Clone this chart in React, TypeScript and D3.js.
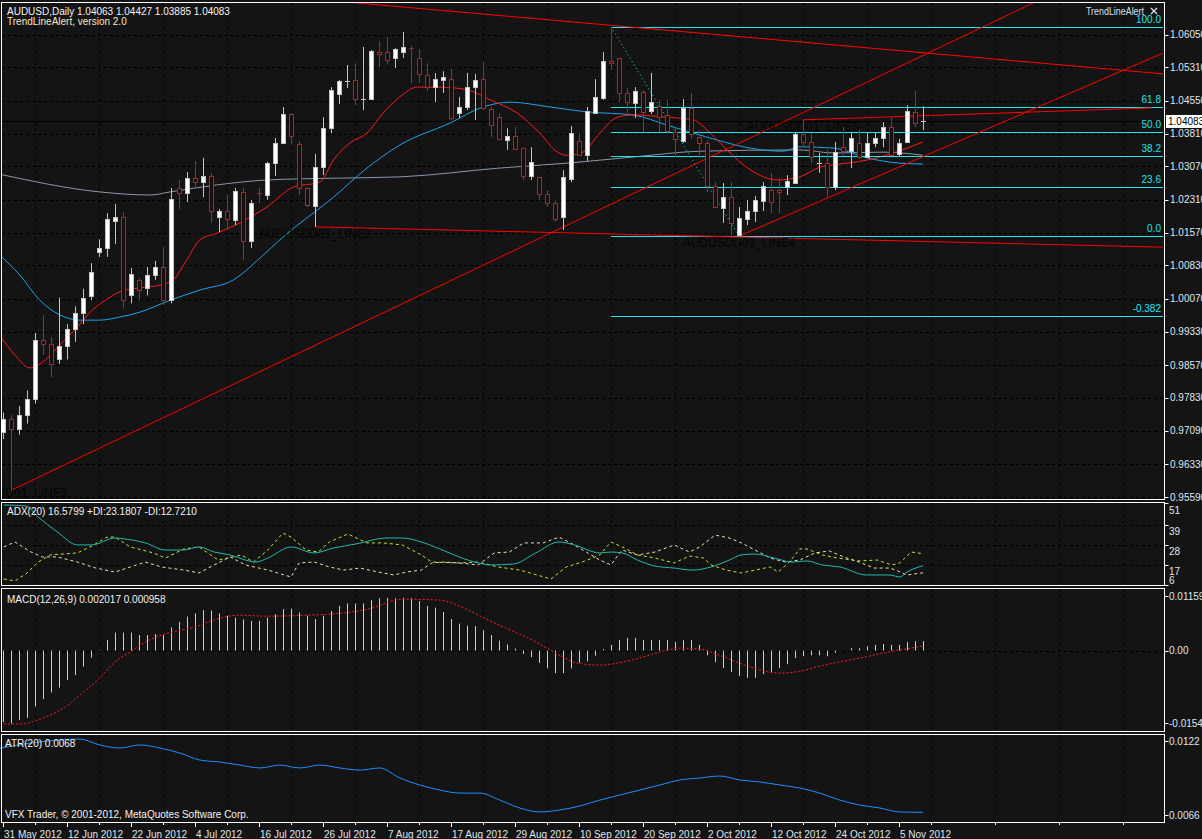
import React, { useEffect } from 'react';
import * as d3 from 'd3';

const W = 1202;
const H = 839;
const font = "Tahoma, 'Liberation Sans', Arial, sans-serif";

// AUDUSD daily bars, 31 May 2012 .. 8 Nov 2012
const opens = [
  0.9705, 0.9735, 0.9712, 0.9745, 0.9780, 0.9915, 0.9905, 0.9870, 0.9900, 0.9940,
  0.9975, 1.0013, 1.0113, 1.0122, 1.0183, 1.0192, 1.0015, 1.0050, 1.0032, 1.0061,
  1.0079, 1.0004, 1.0258, 1.0246, 1.0280, 1.0271, 1.0285, 1.0192, 1.0206, 1.0185,
  1.0249, 1.0138, 1.0247, 1.0242, 1.0314, 1.0360, 1.0425, 1.0357, 1.0258, 1.0217,
  1.0305, 1.0393, 1.0470, 1.0500, 1.0502, 1.0459, 1.0459, 1.0565, 1.0565, 1.0552,
  1.0565, 1.0574, 1.0552, 1.0513, 1.0486, 1.0502, 1.0504, 1.0427, 1.0441, 1.0486,
  1.0504, 1.0436, 1.0418, 1.0366, 1.0375, 1.0348, 1.0285, 1.0283, 1.0244, 1.0224,
  1.0192, 1.0278, 1.0364, 1.0332, 1.0427, 1.0461, 1.0545, 1.0552, 1.0473, 1.0450,
  1.0475, 1.0432, 1.0443, 1.0423, 1.0384, 1.0364, 1.0439, 1.0373, 1.0360, 1.0262,
  1.0213, 1.0237, 1.0151, 1.0188, 1.0206, 1.0228, 1.0253, 1.0253, 1.0260, 1.0269,
  1.0380, 1.0362, 1.0314, 1.0314, 1.0260, 1.0350, 1.0341, 1.0360, 1.0328, 1.0360,
  1.0371, 1.0396, 1.0335, 1.0362, 1.0430, 1.04063,
];
const highs = [
  0.9750, 0.9745, 0.9765, 0.9800, 0.9930, 0.9970, 0.9920, 1.0010, 0.9950, 0.9990,
  1.0030, 1.0088, 1.0142, 1.0201, 1.0222, 1.0203, 1.0077, 1.0054, 1.0079, 1.0093,
  1.0124, 1.0258, 1.0276, 1.0294, 1.0319, 1.0326, 1.0292, 1.0210, 1.0242, 1.0258,
  1.0258, 1.0231, 1.0258, 1.0317, 1.0371, 1.0441, 1.0427, 1.0364, 1.0260, 1.0335,
  1.0418, 1.0486, 1.0502, 1.0536, 1.0540, 1.0577, 1.0570, 1.0590, 1.0599, 1.0574,
  1.0611, 1.0579, 1.0572, 1.0540, 1.0518, 1.0522, 1.0527, 1.0464, 1.0518, 1.0516,
  1.0543, 1.0441, 1.0427, 1.0393, 1.0396, 1.0350, 1.0350, 1.0283, 1.0253, 1.0231,
  1.0298, 1.0398, 1.0382, 1.0441, 1.0504, 1.0565, 1.0622, 1.0552, 1.0484, 1.0486,
  1.0479, 1.0518, 1.0457, 1.0457, 1.0396, 1.0459, 1.0473, 1.0389, 1.0366, 1.0271,
  1.0269, 1.0271, 1.0215, 1.0231, 1.0240, 1.0271, 1.0292, 1.0280, 1.0287, 1.0384,
  1.0412, 1.0382, 1.0337, 1.0344, 1.0362, 1.0396, 1.0382, 1.0389, 1.0382, 1.0382,
  1.0407, 1.0416, 1.0369, 1.0445, 1.0477, 1.04427,
];
const lows = [
  0.9690, 0.9574, 0.9700, 0.9725, 0.9770, 0.9880, 0.9830, 0.9860, 0.9870, 0.9910,
  0.9950, 1.0004, 1.0102, 1.0102, 1.0131, 0.9985, 0.9997, 1.0004, 1.0015, 1.0050,
  0.9993, 0.9997, 1.0210, 1.0226, 1.0258, 1.0237, 1.0179, 1.0158, 1.0163, 1.0174,
  1.0095, 1.0122, 1.0224, 1.0231, 1.0285, 1.0360, 1.0357, 1.0242, 1.0215, 1.0170,
  1.0287, 1.0382, 1.0448, 1.0484, 1.0445, 1.0434, 1.0457, 1.0531, 1.0538, 1.0529,
  1.0552, 1.0495, 1.0495, 1.0477, 1.0452, 1.0473, 1.0412, 1.0416, 1.0434, 1.0412,
  1.0434, 1.0373, 1.0366, 1.0344, 1.0344, 1.0276, 1.0276, 1.0231, 1.0215, 1.0181,
  1.0163, 1.0271, 1.0330, 1.0319, 1.0425, 1.0457, 1.0525, 1.0452, 1.0427, 1.0416,
  1.0384, 1.0425, 1.0384, 1.0382, 1.0328, 1.0360, 1.0369, 1.0326, 1.0249, 1.0215,
  1.0179, 1.0151, 1.0149, 1.0174, 1.0181, 1.0206, 1.0201, 1.0201, 1.0242, 1.0269,
  1.0350, 1.0314, 1.0292, 1.0237, 1.0253, 1.0330, 1.0303, 1.0323, 1.0326, 1.0350,
  1.0350, 1.0330, 1.0330, 1.0360, 1.0396, 1.03885,
];
const closes = [
  0.9735, 0.9712, 0.9745, 0.9780, 0.9915, 0.9905, 0.9860, 0.9900, 0.9940, 0.9975,
  1.0010, 1.0068, 1.0122, 1.0188, 1.0192, 1.0004, 1.0063, 1.0027, 1.0061, 1.0079,
  1.0004, 1.0233, 1.0246, 1.0280, 1.0271, 1.0285, 1.0206, 1.0206, 1.0188, 1.0251,
  1.0138, 1.0224, 1.0245, 1.0314, 1.0360, 1.0425, 1.0375, 1.0258, 1.0219, 1.0305,
  1.0393, 1.0479, 1.0500, 1.0500, 1.0459, 1.0459, 1.0568, 1.0561, 1.0547, 1.0572,
  1.0577, 1.0572, 1.0516, 1.0486, 1.0504, 1.0509, 1.0416, 1.0441, 1.0486, 1.0502,
  1.0439, 1.0400, 1.0369, 1.0375, 1.0346, 1.0285, 1.0317, 1.0244, 1.0224, 1.0188,
  1.0283, 1.0382, 1.0332, 1.0432, 1.0464, 1.0545, 1.0540, 1.0473, 1.0452, 1.0477,
  1.0430, 1.0452, 1.0418, 1.0387, 1.0369, 1.0439, 1.0380, 1.0360, 1.0262, 1.0215,
  1.0237, 1.0179, 1.0190, 1.0206, 1.0231, 1.0262, 1.0226, 1.0249, 1.0274, 1.0380,
  1.0362, 1.0328, 1.0314, 1.0260, 1.0339, 1.0341, 1.0371, 1.0328, 1.0360, 1.0371,
  1.0396, 1.0332, 1.0360, 1.0432, 1.0405, 1.04083,
];

const dateLabels = [
  '31 May 2012', '12 Jun 2012', '22 Jun 2012', '4 Jul 2012', '16 Jul 2012',
  '26 Jul 2012', '7 Aug 2012', '17 Aug 2012', '29 Aug 2012', '10 Sep 2012',
  '20 Sep 2012', '2 Oct 2012', '12 Oct 2012', '24 Oct 2012', '5 Nov 2012',
];

const priceTicks = [
  1.0605, 1.0531, 1.0455, 1.0381, 1.0307, 1.0231, 1.0157, 1.0083,
  1.0007, 0.9933, 0.9857, 0.9783, 0.9709, 0.9633, 0.9559,
];

// moving averages: [bar, price]
const redMa: [number, number][] = [
  [-0.4, 0.9925], [1.5, 0.9880], [3.4, 0.9851], [5.3, 0.9869], [7.1, 0.9903], [9, 0.9937],
  [10.9, 0.9977], [12.8, 1.0004], [14.6, 1.0023], [17.1, 1.0032], [19.6, 1.0038], [21.3, 1.0050],
  [22.8, 1.0090], [24.6, 1.0140], [26.8, 1.0156], [29.6, 1.0179], [33, 1.0215], [36.3, 1.0260],
  [39.6, 1.0271], [41.3, 1.0321], [43.4, 1.0360], [45.5, 1.0382], [47.5, 1.0427], [49.6, 1.0464],
  [51.8, 1.0486], [54.6, 1.0486], [58, 1.0480], [60.9, 1.0457], [64.3, 1.0427], [67.1, 1.0382],
  [69.3, 1.0339], [70.5, 1.0332], [72.5, 1.0339], [74.6, 1.0382], [76.8, 1.0418], [78.8, 1.0423],
  [83, 1.0418], [86.3, 1.0412], [88.4, 1.0382], [90.5, 1.0344], [93.4, 1.0299], [96.8, 1.0276],
  [99.6, 1.0283], [102.1, 1.0305], [103.8, 1.0310], [108, 1.0321], [111.3, 1.0337], [115, 1.0362],
];
const blueMa: [number, number][] = [
  [-0.4, 1.0106], [2.1, 1.0061], [4.6, 1.0004], [7.1, 0.9971], [9.6, 0.9959], [12.1, 0.9959],
  [14.6, 0.9966], [17.1, 0.9977], [20.9, 1.0004], [24.6, 1.0027], [28.8, 1.0050], [32.1, 1.0099],
  [35, 1.0147], [41.3, 1.0237], [45.5, 1.0303], [49.6, 1.0355], [55.9, 1.0405], [60, 1.0441],
  [63.4, 1.0452], [68.4, 1.0441], [73, 1.0430], [78.8, 1.0423], [83, 1.0400], [86.3, 1.0382],
  [89.3, 1.0366], [93.4, 1.0348], [97.5, 1.0341], [99.6, 1.0351], [103.8, 1.0348], [108, 1.0326],
  [112.1, 1.0314], [115, 1.0312],
];
const grayMa: [number, number][] = [
  [-0.4, 1.0289], [12.1, 1.0249], [18.4, 1.0242], [20.9, 1.0249], [26.8, 1.0265], [33, 1.0276],
  [41.3, 1.0280], [49.6, 1.0283], [62.1, 1.0303], [70.5, 1.0314], [78.8, 1.0328], [87.1, 1.0341],
  [99.6, 1.0344], [103.8, 1.0337], [110, 1.0339], [115, 1.0332],
];

// trend lines: two anchors [bar, price]
const trendLines = [
  { name: '', a: [30, 1.0699], b: [145, 1.0516] },
  { name: 'AUDUSDD01_LINE2', a: [39, 1.0170], b: [145, 1.0124] },
  { name: 'AUDUSDD01_LINE3', a: [1, 0.9574], b: [160, 1.0946] },
  { name: 'AUDUSDD01_LINE4', a: [92, 1.0149], b: [145, 1.0563] },
  { name: 'AUDUSDD01_LINE5', a: [100, 1.0412], b: [143.6, 1.0439] },
];

// Fibonacci retracement between the September high and October low
const fibHigh = { bar: 76, price: 1.0622 };
const fibLow = { bar: 92, price: 1.0149 };
const fibLevels = [100, 61.8, 50, 38.2, 23.6, 0, -38.2];
const fibLabels = ['100.0', '61.8', '50.0', '38.2', '23.6', '0.0', '-0.382'];

// ADX(20)
const adxLine: [number, number][] = [
  [0.1, 49.9], [2.8, 49.4], [4.4, 43.3], [6.8, 35.1], [9.3, 28.0], [11.1, 28.0], [14, 31.8],
  [15.4, 31.2], [17.8, 29.1], [20.3, 25.2], [22.6, 25.2], [24.5, 26.9], [26.4, 24.1], [28.4, 22.5],
  [30.3, 19.7], [31.6, 18.6], [33.1, 20.8], [36, 26.9], [38.9, 23.6], [41.3, 26.3], [44.1, 28.5],
  [48, 31.8], [49.9, 31.8], [52.3, 29.6], [54.6, 25.8], [57, 21.4], [59.4, 18.1], [60.9, 17.0],
  [63.8, 17.5], [66.6, 23.6], [69.5, 29.6], [71.4, 28.0], [74.6, 23.6], [76, 24.1], [77.4, 23.6],
  [79.3, 19.7], [81.5, 16.4], [83.9, 15.3], [86.1, 14.2], [88.5, 15.9], [90.8, 19.7], [92.3, 22.5],
  [94, 23.0], [96.4, 20.8], [98.6, 18.6], [100.5, 19.2], [102.4, 17.0], [104.6, 15.9], [107.9, 11.5],
  [110.8, 11.5], [112.1, 10.4], [113, 13.1], [115, 16.6],
];
const plusDi: [number, number][] = [
  [0.1, 9.3], [1.5, 8.2], [3, 12.6], [4.4, 18.6], [5.9, 22.5], [9.3, 23.6], [11.1, 27.4], [13, 32.3],
  [14, 32.3], [15.9, 26.9], [18.8, 23.6], [20.3, 20.8], [22.6, 25.8], [24.5, 26.9], [26.9, 19.7],
  [29.8, 22.5], [31.3, 18.6], [33.1, 25.2], [35, 34.5], [36, 32.3], [37.9, 25.2], [39.4, 24.1],
  [40.8, 29.6], [43.1, 34.0], [45.5, 29.1], [47.5, 29.1], [49.9, 28.0], [52.3, 22.5], [53.6, 18.6],
  [57, 18.1], [59.4, 18.6], [61.9, 15.9], [64.6, 14.2], [68.5, 9.3], [70.4, 15.9], [72.4, 18.6],
  [74.6, 22.5], [76, 29.6], [77.4, 26.9], [79.3, 22.5], [81.5, 20.8], [83.9, 18.1], [85.8, 21.9],
  [87.6, 20.8], [88.5, 17.0], [90.4, 14.2], [92.3, 12.6], [94, 14.2], [95.9, 15.9], [96.9, 13.1],
  [98.3, 18.6], [99.6, 25.8], [100.5, 25.8], [102.4, 22.5], [104.3, 20.8], [107, 19.2],
  [109.3, 19.7], [111.1, 17.0], [112.1, 18.1], [113.5, 24.1], [115, 23.2],
];
const minusDi: [number, number][] = [
  [0.1, 26.9], [1.5, 29.6], [3.5, 24.1], [4.9, 21.4], [6.8, 21.4], [9.3, 18.6], [11.6, 15.3],
  [14, 13.1], [15.9, 15.9], [17.8, 18.6], [19.8, 15.9], [22.6, 14.2], [24.5, 12.6], [26.4, 17.0],
  [28.4, 21.4], [30.3, 17.0], [33.1, 14.2], [36, 10.4], [37, 18.1], [38.9, 18.6], [40.8, 15.9],
  [42.6, 14.2], [44.6, 15.3], [47.5, 12.6], [48.9, 11.5], [50.4, 13.1], [52.3, 14.2], [53.6, 18.1],
  [55.1, 18.6], [57, 18.1], [59.4, 17.0], [61.4, 23.6], [63.3, 24.1], [65.1, 29.1], [67.5, 29.1],
  [69.5, 32.3], [71.4, 28.0], [72.9, 24.1], [74.6, 19.7], [76, 17.0], [76.9, 22.5], [77.4, 25.2],
  [79.3, 22.5], [81.5, 24.1], [83.9, 28.0], [85.8, 24.1], [87.1, 26.9], [89, 33.4], [90.8, 31.8],
  [92.3, 29.1], [94, 25.2], [95.9, 20.8], [97.8, 18.6], [99.6, 19.7], [101.5, 23.6], [103.3, 24.7],
  [105.1, 21.4], [107, 18.6], [108.9, 15.3], [110.8, 15.3], [111.6, 14.2], [113, 11.5], [115, 12.7],
];
const adxTicks = [51, 39, 28, 17, 6];

// MACD(12,26,9)
const macdHist = [
  -0.0152, -0.0155, -0.0148, -0.0143, -0.0119, -0.0103, -0.0089, -0.0079, -0.0063, -0.0052,
  -0.0034, -0.0015, -0.0001, 0.0022, 0.0038, 0.0038, 0.0038, 0.0033, 0.0033, 0.0035,
  0.0033, 0.0049, 0.0061, 0.0072, 0.0079, 0.0086, 0.0085, 0.0079, 0.0074, 0.0070,
  0.0066, 0.0063, 0.0063, 0.0070, 0.0077, 0.0088, 0.0089, 0.0081, 0.0074, 0.0067,
  0.0074, 0.0084, 0.0095, 0.0100, 0.0100, 0.0100, 0.0107, 0.0111, 0.0112, 0.0111,
  0.0112, 0.0111, 0.0105, 0.0095, 0.0091, 0.0082, 0.0067, 0.0057, 0.0053, 0.0052,
  0.0043, 0.0033, 0.0021, 0.0013, 0.0004, -0.0007, -0.0014, -0.0026, -0.0038, -0.0048,
  -0.0048, -0.0038, -0.0026, -0.0023, -0.0011, 0.0003, 0.0012, 0.0022, 0.0027, 0.0027,
  0.0022, 0.0022, 0.0022, 0.0022, 0.0018, 0.0022, 0.0022, 0.0012, -0.0010, -0.0025,
  -0.0037, -0.0046, -0.0054, -0.0058, -0.0058, -0.0050, -0.0046, -0.0037, -0.0029, -0.0016,
  -0.0012, -0.0010, -0.0010, -0.0012, -0.0005, 0.0000, 0.0005, 0.0005, 0.0009, 0.0012,
  0.0014, 0.0012, 0.0012, 0.0018, 0.0020, 0.0020,
];
const macdSignal: [number, number][] = [
  [0.1, -0.0156], [2.5, -0.0156], [3.9, -0.0150], [5.9, -0.0137], [7.8, -0.0120], [9.6, -0.0095],
  [12.1, -0.0058], [14, -0.0024], [15.9, -0.0003], [17.8, 0.0018], [19.8, 0.0033], [21.6, 0.0041],
  [24, 0.0050], [26.4, 0.0065], [29.3, 0.0075], [33.1, 0.0073], [37.9, 0.0075], [41.3, 0.0078],
  [43.6, 0.0082], [46.5, 0.0092], [48.9, 0.0107], [50.4, 0.0109], [54.6, 0.0107], [57, 0.0095],
  [59.9, 0.0071], [62.8, 0.0048], [65.6, 0.0027], [68, 0.0005], [70, -0.0014], [71.9, -0.0027],
  [74.6, -0.0031], [75.9, -0.0029], [79.6, -0.0016], [82.1, -0.0003], [84.6, 0.0005], [87.1, 0.0003],
  [89.6, -0.0010], [92.1, -0.0027], [94.6, -0.0041], [97.1, -0.0048], [99.6, -0.0044],
  [102.1, -0.0033], [104.6, -0.0024], [107.1, -0.0016], [109.6, -0.0007], [112.1, 0.0001],
  [115, 0.00096],
];

// ATR(20)
const atrLine: [number, number][] = [
  [-0.4, 0.01167], [7.1, 0.01228], [9.6, 0.01235], [12.1, 0.0119], [14.6, 0.01167], [17.1, 0.0119],
  [19.6, 0.01167], [22.1, 0.01129], [24.6, 0.01076], [27.1, 0.01061], [29.6, 0.01038],
  [32.1, 0.01016], [34.6, 0.01038], [37.1, 0.01016], [39.6, 0.01038], [42.1, 0.01016],
  [44.6, 0.0100], [47.1, 0.01016], [49.6, 0.0094], [52.1, 0.00887], [54.6, 0.00849],
  [57.1, 0.00826], [59.6, 0.00826], [62.1, 0.00773], [64.6, 0.00713], [67.1, 0.00683],
  [69.6, 0.00698], [72.1, 0.00728], [74.6, 0.00773], [77.1, 0.00811], [79.6, 0.00849],
  [82.1, 0.00887], [84.6, 0.00925], [87.1, 0.0094], [89.6, 0.00955], [92.1, 0.00925],
  [94.6, 0.0091], [97.1, 0.00887], [99.6, 0.00864], [102.1, 0.00826], [104.6, 0.00773],
  [107.1, 0.00735], [109.6, 0.00713], [112.1, 0.00683], [115, 0.0068],
];

const lastClose = 1.04083;

const panels = [
  { top: 2.5, bottom: 499.5 },
  { top: 502.5, bottom: 585.5 },
  { top: 588.5, bottom: 731.5 },
  { top: 734.5, bottom: 822.5 },
];
const plotRight = 1164.5;

export default function App() {
  useEffect(() => {
    document.body.style.margin = '0';
    document.body.style.background = '#141414';
  }, []);

  const x = d3.scaleLinear().domain([0, 115]).range([3, 923]);
  const yMain = d3.scaleLinear().domain([0.9559, 1.0605]).range([497, 34.5]);
  const yAdx = d3.scaleLinear().domain([6, 51]).range([585, 503]);
  const yMacd = d3.scaleLinear().domain([-0.0154, 0.01159]).range([723, 596]);
  const yAtr = d3.scaleLinear().domain([0.0066, 0.0122]).range([815, 741]);

  const mkLine = (ys: d3.ScaleLinear<number, number>, curve = d3.curveMonotoneX) =>
    d3.line<[number, number]>().x(d => x(d[0])).y(d => ys(d[1])).curve(curve);

  const mainLine = mkLine(yMain);
  const gridBars = d3.range(4, 141, 8);
  const labelBars = d3.range(0, 113, 8);

  const fibX1 = x(fibHigh.bar);
  const fibPrice = (lv: number) => fibLow.price + (fibHigh.price - fibLow.price) * lv / 100;
  const fibColor = '#1FE3EE';

  const txt = '#dfe6ee';

  return (
    <div style={{ position: 'absolute', left: 0, top: 0 }}>
      <svg width={W} height={H} style={{ display: 'block' }} fontFamily={font}>
        <defs>
          <clipPath id="clipMain">
            <rect x={2} y={3} width={1162} height={496} />
          </clipPath>
          <clipPath id="clipAdx">
            <rect x={2} y={503} width={1162} height={82} />
          </clipPath>
        </defs>
        <rect width={W} height={H} fill="#141414" />

        {/* grids */}
        {panels.map((p, k) => (
          <g key={'vg' + k}>
            {gridBars.map(b => (
              <line key={b} x1={x(b) + 0.5} x2={x(b) + 0.5} y1={p.top} y2={p.bottom}
                stroke="#000" strokeDasharray="3,3" />
            ))}
          </g>
        ))}
        {priceTicks.map(t => (
          <line key={t} x1={2} x2={plotRight} y1={Math.round(yMain(t)) + 0.5} y2={Math.round(yMain(t)) + 0.5}
            stroke="#000" strokeDasharray="3,3" />
        ))}
        {adxTicks.slice(1, 4).map(t => (
          <line key={'ag' + t} x1={2} x2={plotRight} y1={Math.round(yAdx(t)) + 0.5} y2={Math.round(yAdx(t)) + 0.5}
            stroke="#000" strokeDasharray="3,3" />
        ))}
        <line x1={2} x2={plotRight} y1={Math.round(yMacd(0)) + 0.5} y2={Math.round(yMacd(0)) + 0.5}
          stroke="#000" strokeDasharray="3,3" />

        {/* main panel */}
        <g clipPath="url(#clipMain)">
          <line x1={2} x2={plotRight} y1={yMain(lastClose)} y2={yMain(lastClose)} stroke="#000" />
          <path d={mainLine(grayMa) ?? ''} fill="none" stroke="#8a98a8" />
          <path d={mainLine(blueMa) ?? ''} fill="none" stroke="#1EA2EA" />
          <path d={mainLine(redMa) ?? ''} fill="none" stroke="#ff1a1a" />

          {fibLevels.map((lv, k) => (
            <g key={'fib' + k}>
              <line x1={fibX1} x2={1163} y1={Math.round(yMain(fibPrice(lv))) + 0.5} y2={Math.round(yMain(fibPrice(lv))) + 0.5}
                stroke={fibColor} />
              <text x={1161} y={yMain(fibPrice(lv)) - 4} textAnchor="end" fontSize={10} fill={fibColor}>
                {fibLabels[k]}
              </text>
            </g>
          ))}
          <line x1={x(fibHigh.bar)} y1={yMain(fibHigh.price)} x2={x(fibLow.bar)} y2={yMain(fibLow.price)}
            stroke={fibColor} strokeDasharray="1,3" />

          {trendLines.map((t, k) => (
            <g key={'tl' + k}>
              <line x1={x(t.a[0])} y1={yMain(t.a[1])} x2={x(t.b[0])} y2={yMain(t.b[1])} stroke="#ff0000" />
              {t.name && (
                <text x={x(t.a[0])} y={Math.min(yMain(t.a[1]) + 11, 497)} textAnchor="middle" fontSize={12}
                  fontFamily="'Liberation Sans', Arial, sans-serif" fill="#050505">
                  {t.name}
                </text>
              )}
            </g>
          ))}

          {closes.map((c, i) => {
            const o = opens[i];
            const cx = Math.round(x(i));
            const up = c >= o;
            const doji = Math.abs(c - o) < 0.00025;
            const col = up ? '#c4c4c4' : '#a82828';
            const top = Math.round(yMain(Math.max(o, c)));
            const bot = Math.round(yMain(Math.min(o, c)));
            return (
              <g key={'c' + i}>
                <line x1={cx + 0.5} x2={cx + 0.5} y1={yMain(highs[i])} y2={yMain(lows[i])} stroke={col} />
                {doji ? (
                  <line x1={cx - 2} x2={cx + 3} y1={top + 0.5} y2={top + 0.5} stroke={col} />
                ) : (
                  <rect x={cx - 1.5} y={top + 0.5} width={4} height={Math.max(1, bot - top)}
                    fill={up ? '#ffffff' : '#1c0c0c'} stroke={col} />
                )}
              </g>
            );
          })}
        </g>

        {/* ADX panel */}
        <g clipPath="url(#clipAdx)">
          <path d={mkLine(yAdx, d3.curveLinear)(plusDi) ?? ''} fill="none" stroke="#b4f02a" strokeDasharray="3,3" />
          <path d={mkLine(yAdx, d3.curveLinear)(minusDi) ?? ''} fill="none" stroke="#f5dfb0" strokeDasharray="3,3" />
          <path d={mkLine(yAdx)(adxLine) ?? ''} fill="none" stroke="#22b8b0" />
        </g>

        {/* MACD panel */}
        {macdHist.map((v, i) => (
          <line key={'h' + i} x1={Math.round(x(i)) + 0.5} x2={Math.round(x(i)) + 0.5}
            y1={yMacd(0)} y2={yMacd(v)} stroke="#cfcfcf" />
        ))}
        <path d={mkLine(yMacd)(macdSignal) ?? ''} fill="none" stroke="#ff2020" strokeDasharray="2,2" />

        {/* ATR panel */}
        <path d={mkLine(yAtr)(atrLine) ?? ''} fill="none" stroke="#1E8FFF" />

        {/* frames */}
        {panels.map((p, k) => (
          <rect key={'f' + k} x={1.5} y={p.top} width={plotRight - 1.5} height={p.bottom - p.top}
            fill="none" stroke="#fff" />
        ))}

        {/* price axis */}
        {priceTicks.map(t => (
          <g key={'pt' + t}>
            <line x1={plotRight} x2={plotRight + 4} y1={Math.round(yMain(t)) + 0.5} y2={Math.round(yMain(t)) + 0.5} stroke="#fff" />
            <text x={1170} y={yMain(t)} dy="0.35em" fontSize={10} fill={txt}>{t.toFixed(5)}</text>
          </g>
        ))}
        <rect x={1166} y={yMain(lastClose) - 6.5} width={40} height={13} fill="#fff" />
        <text x={1168} y={yMain(lastClose)} dy="0.35em" fontSize={10} fill="#000">{lastClose.toFixed(5)}</text>

        {adxTicks.map(t => (
          <g key={'at' + t}>
            <line x1={plotRight} x2={plotRight + 4} y1={Math.round(yAdx(t)) + 0.5} y2={Math.round(yAdx(t)) + 0.5} stroke="#fff" />
            <text x={1169} y={Math.min(yAdx(t) + 7, 580)} dy="0.35em" fontSize={10} fill={txt}>{t}</text>
          </g>
        ))}
        {[0.01159, 0, -0.0154].map(t => (
          <g key={'mt' + t}>
            <line x1={plotRight} x2={plotRight + 4} y1={Math.round(yMacd(t)) + 0.5} y2={Math.round(yMacd(t)) + 0.5} stroke="#fff" />
            <text x={1169} y={yMacd(t)} dy="0.35em" fontSize={10} fill={txt}>
              {t === 0 ? '0.00' : t.toFixed(5)}
            </text>
          </g>
        ))}
        {[0.0122, 0.0066].map(t => (
          <g key={'tt' + t}>
            <line x1={plotRight} x2={plotRight + 4} y1={Math.round(yAtr(t)) + 0.5} y2={Math.round(yAtr(t)) + 0.5} stroke="#fff" />
            <text x={1169} y={yAtr(t)} dy="0.35em" fontSize={10} fill={txt}>{t.toFixed(4)}</text>
          </g>
        ))}

        {/* time axis */}
        {gridBars.map(b => (
          <line key={'gt' + b} x1={x(b) + 0.5} x2={x(b) + 0.5} y1={822.5} y2={825} stroke="#fff" />
        ))}
        {labelBars.map((b, k) => (
          <g key={'dl' + b}>
            <line x1={x(b) + 0.5} x2={x(b) + 0.5} y1={822.5} y2={827} stroke="#fff" />
            <text x={x(b) + 1} y={834} dy="0.35em" fontSize={10} fill={txt}>{dateLabels[k]}</text>
          </g>
        ))}

        {/* captions */}
        <text x={7} y={11} dy="0.35em" fontSize={10} fill="#f2f2f2">AUDUSD,Daily  1.04063 1.04427 1.03885 1.04083</text>
        <text x={7} y={21} dy="0.35em" fontSize={10} fill="#f5e6c8">TrendLineAlert, version 2.0</text>
        <text x={1086} y={11} dy="0.35em" fontSize={10} textLength={58} lengthAdjust="spacingAndGlyphs"
          fill="#cfe0f5">TrendLineAlert</text>
        <g stroke="#cfe0f5" strokeWidth={1.2}>
          <line x1={1151} y1={8} x2={1157} y2={14} />
          <line x1={1157} y1={8} x2={1151} y2={14} />
        </g>
        <text x={7} y={511} dy="0.35em" fontSize={10} fill="#f2f2f2">ADX(20) 16.5799 +DI:23.1807 -DI:12.7210</text>
        <text x={7} y={599} dy="0.35em" fontSize={10} fill="#f2f2f2">MACD(12,26,9) 0.002017 0.000958</text>
        <text x={5} y={743} dy="0.35em" fontSize={10} fill="#f2f2f2">ATR(20) 0.0068</text>
        <text x={5} y={814} dy="0.35em" fontSize={10} fill="#f2f2f2">VFX Trader, © 2001-2012, MetaQuotes Software Corp.</text>
      </svg>
    </div>
  );
}
